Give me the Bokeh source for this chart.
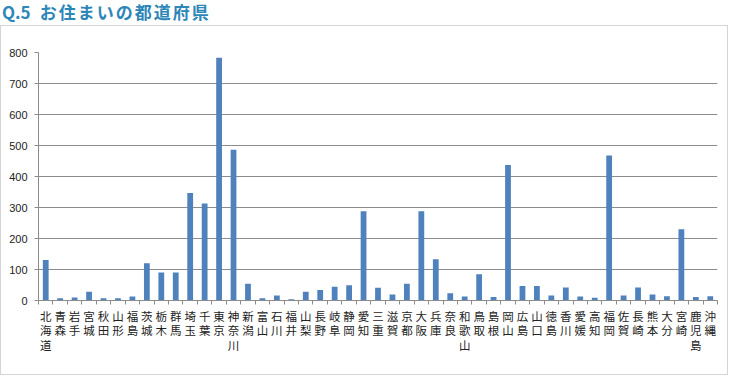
from bokeh.plotting import figure
from bokeh.models import (Range1d, FixedTicker, Div, ColumnDataSource)
from bokeh.layouts import column
from bokeh.embed import file_html
from bokeh.resources import INLINE

title_prefix = "Q.5"
title_main = "お住まいの都道府県"

prefectures = [
    "北海道", "青森", "岩手", "宮城", "秋田", "山形", "福島", "茨城", "栃木", "群馬",
    "埼玉", "千葉", "東京", "神奈川", "新潟", "富山", "石川", "福井", "山梨", "長野",
    "岐阜", "静岡", "愛知", "三重", "滋賀", "京都", "大阪", "兵庫", "奈良", "和歌山",
    "鳥取", "島根", "岡山", "広島", "山口", "徳島", "香川", "愛媛", "高知", "福岡",
    "佐賀", "長崎", "熊本", "大分", "宮崎", "鹿児島", "沖縄",
]
counts = [
    131, 7, 10, 28, 7, 7, 13, 120, 90, 90,
    347, 313, 783, 486, 54, 7, 16, 4, 28, 34,
    44, 49, 288, 41, 19, 54, 288, 133, 23, 13,
    85, 11, 437, 47, 47, 16, 42, 13, 9, 468,
    16, 42, 19, 14, 230, 11, 14,
]
y_ticks = [0, 100, 200, 300, 400, 500, 600, 700, 800]

n = len(prefectures)
slot_centers = [i + 0.5 for i in range(n)]
slot_edges = list(range(n + 1))

src = ColumnDataSource(dict(x=slot_centers, pref=prefectures, count=counts))

AXIS_GRAY = "#8c8c8c"

p = figure(
    x_range=Range1d(0, n),
    y_range=Range1d(0, 800),
    width=728, height=350,
    output_backend="svg", toolbar_location=None,
    min_border_left=37, min_border_right=12, min_border_top=26, min_border_bottom=76,
)
p.styles = {"border": "1px solid #d4d4d4"}
p.background_fill_color = "white"
p.border_fill_color = "white"
p.outline_line_color = None

p.vbar(x="x", top="count", width=0.4, source=src,
       fill_color="#4f81bd", line_color=None)

xa = p.xaxis[0]
xa.ticker = FixedTicker(ticks=slot_centers, minor_ticks=slot_edges)
xa.major_label_overrides = {c: "\n".join(name) for c, name in zip(slot_centers, prefectures)}
xa.axis_line_color = AXIS_GRAY
xa.major_tick_line_color = None
xa.major_tick_in = 0
xa.major_tick_out = 4
xa.minor_tick_line_color = AXIS_GRAY
xa.minor_tick_in = 0
xa.minor_tick_out = 4
xa.major_label_standoff = 3
xa.major_label_text_font = "Noto Sans CJK JP"
xa.major_label_text_font_size = "11.5px"
xa.major_label_text_color = "#222222"
xa.major_label_text_line_height = 0.92

ya = p.yaxis[0]
ya.ticker = FixedTicker(ticks=y_ticks)
ya.major_label_text_font = "Liberation Sans"
ya.major_label_text_font_size = "11px"
ya.major_label_text_color = "#222222"
ya.axis_line_color = AXIS_GRAY
ya.major_tick_line_color = AXIS_GRAY
ya.major_tick_in = 0
ya.major_tick_out = 4
ya.minor_tick_line_color = None
ya.major_label_standoff = 7

p.xgrid.visible = False
p.ygrid.grid_line_color = AXIS_GRAY
p.ygrid.grid_line_width = 1

title = Div(
    text=(f"{title_prefix}<span style='margin-left:9px;letter-spacing:2px'>"
          f"{title_main}</span>"),
    width=730, height=25, margin=0,
    styles={"font-family": "'Noto Sans CJK JP'", "font-weight": "bold",
            "font-size": "17px", "color": "#2d86b8", "padding-left": "2px",
            "line-height": "24px", "white-space": "nowrap"},
)

layout = column(title, p, spacing=0)
open("out.html", "w").write(file_html(layout, INLINE))
